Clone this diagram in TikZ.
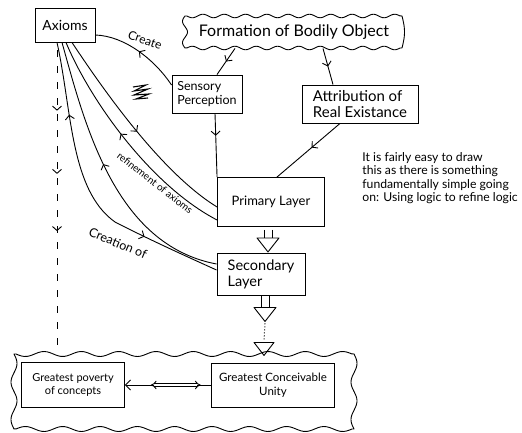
\documentclass[tikz,border=0pt]{standalone}
\usepackage{fontspec}
\setmainfont{Lato}
\usetikzlibrary{arrows.meta,decorations.markings,calc}
\begin{document}
\begin{tikzpicture}[x=1pt,y=-1pt,line width=0.9pt,
  box/.style={draw,rectangle,inner sep=2pt},
  barbtip/.tip={Straight Barb[length=4pt,width=9pt]},
  fwd/.style={postaction={decorate,decoration={markings,mark=at position #1 with {\arrow{barbtip}}}}},
  bwd/.style={postaction={decorate,decoration={markings,mark=at position #1 with {\arrowreversed{barbtip}}}}},
  lbl/.style={inner sep=0pt},
  pics/downarr/.style={code={
     \draw (-4,-#1) -- (-4,0) (4,-#1) -- (4,0);
     \draw[line join=round] (-11,0) -- (11,0) -- (0,14) -- cycle;}}
]
\fill[white] (0,0) rectangle (522,433);
\useasboundingbox (0,0) rectangle (522,433);

% nodes
\node[box,minimum width=60pt,minimum height=34pt,font=\fontsize{14}{16}\selectfont] (axioms) at (65,25) {Axioms};
\node[rectangle,minimum width=216pt,minimum height=32pt,font=\fontsize{16}{18}\selectfont] (form) at (294,32) {Formation of Bodily Object};
\draw[line join=round]
  plot[smooth,domain=0:1,samples=100,variable=\t] ({187+213*\t},{16+1.8*sin(\t*360*10)})
  -- plot[smooth,domain=0:1,samples=30,variable=\t] ({402+2.5*sin(\t*180)},{16+32*\t})
  -- plot[smooth,domain=0:1,samples=100,variable=\t] ({400-213*\t},{48+1.8*sin(\t*360*10)})
  -- plot[smooth,domain=0:1,samples=30,variable=\t] ({185-2.5*sin(\t*360*1.5)},{48-32*\t}) -- cycle;
\node[box,minimum width=70pt,minimum height=38pt,align=left,font=\fontsize{12.5}{14}\selectfont] (sens) at (207,94) {Sensory\\Perception};
\node[box,minimum width=116pt,minimum height=38pt,align=left,font=\fontsize{15}{16}\selectfont] (attr) at (360,104) {Attribution of\\Real Existance};
\node[box,minimum width=107pt,minimum height=49pt,font=\fontsize{13}{15}\selectfont] (prim) at (271,202) {Primary Layer};
\node[box,minimum width=88pt,minimum height=42pt,align=left,font=\fontsize{14.5}{16}\selectfont] (sec) at (261,274) {Secondary\\Layer};
\node[rectangle,minimum width=340pt,minimum height=78pt] (bot) at (184,391) {};
\draw[line join=round]
  plot[smooth,domain=0:1,samples=120,variable=\t] ({16+336*\t},{354+2.5*sin(\t*360*9)})
  -- plot[smooth,domain=0:1,samples=40,variable=\t] ({354+3*sin(\t*360*2)},{354+75*\t})
  -- plot[smooth,domain=0:1,samples=120,variable=\t] ({352-336*\t},{429+2.5*sin(\t*360*9)})
  -- plot[smooth,domain=0:1,samples=40,variable=\t] ({14-3*sin(\t*360*2)},{429-75*\t}) -- cycle;
\node[box,minimum width=103pt,minimum height=45pt,align=center,font=\fontsize{11}{13}\selectfont] (pov) at (73,385) {Greatest poverty\\of concepts};
\node[box,minimum width=123pt,minimum height=44pt,align=center,font=\fontsize{11.5}{13.5}\selectfont] (unity) at (273,385) {Greatest Conceivable\\Unity};
\node[anchor=north west,align=left,inner sep=0pt,font=\fontsize{12.2}{13.5}\selectfont] (note) at (362,152) {It is fairly easy to draw\\this as there is something\\fundamentally simple going\\on: Using logic to refine logic};

% top connectors
\draw[fwd=0.5] ($(form.south)+(-59,0)$) -- ($(sens.north)+(10,0)$);
\draw[fwd=0.5] ($(form.south)+(29,0)$) -- ($(attr.north)+(-27,0)$);
\draw[fwd=0.35] ($(sens.south)+(8,0)$) -- (prim.north west);
\draw[fwd=0.45] ($(attr.south)+(-20,0)$) -- ($(prim.north)+(6,0)$);
\draw[fwd=0.5] ($(sens.west)+(0,-9)$) .. controls (155,60) and (125,36) .. ($(axioms.east)+(0,10)$);
\node[lbl,rotate=-20,font=\fontsize{12}{13}\selectfont] (lcreate) at (145,40) {Create};

% curves from axioms
\draw[postaction={decorate,decoration={markings,
    mark=at position 0.24 with {\arrowreversed{barbtip}},
    mark=at position 0.74 with {\arrow{barbtip}}}}]
  ($(axioms.south)+(-8,0)$) .. controls (72,110) and (70,190) .. (115,222) .. controls (150,240) and (190,258) .. ($(sec.west)+(0,-4)$);
\draw[bwd=0.45] ($(axioms.south)+(-3,0)$) .. controls (85,125) and (115,245) .. ($(sec.west)+(0,-10)$);
\draw[bwd=0.45] ($(axioms.south)+(1,0)$) .. controls (90,100) and (150,185) .. ($(prim.west)+(0,18)$);
\draw[fwd=0.5] ($(axioms.south)+(7,0)$) .. controls (110,100) and (165,175) .. ($(prim.west)+(0,5)$);
\node[lbl,rotate=-38,font=\fontsize{10}{11}\selectfont] (lref) at (155,183) {refinement of axioms};
\node[lbl,rotate=-23,font=\fontsize{12.5}{13}\selectfont] (lcre) at (118,243) {Creation of};

% dashed line down from axioms
\draw[dash pattern=on 7pt off 9pt,
  postaction={solid,decorate,decoration={markings,
    mark=at position 0.2 with {\arrow{barbtip}},
    mark=at position 0.41 with {\arrow{barbtip}},
    mark=at position 0.6 with {\arrow{barbtip}}}}]
  ($(axioms.south)+(-8,8)$) -- ($(bot.north)+(-127,0)$);

% bottom arrow
\draw[{Straight Barb[length=5pt,width=10pt]}-] (pov.east) -- (unity.west);
\draw[double distance=2pt,{Implies}-{Implies}] ($(pov.east)!0.3!(unity.west)$) -- ($(pov.east)!0.88!(unity.west)$);

% hollow arrows
\pic at ($(prim.south)+(-3,11)$) {downarr=8};
\pic at ($(sec.south)+(4,12)$) {downarr=12};
\draw[dotted,line width=1pt] ($(sec.south)+(4,28)$) -- ($(sec.south)+(3,45)$);
\draw[line join=round] ($(sec.south)+(-7,47)$) -- ($(sec.south)+(13,47)$) -- ($(sec.south)+(3,60)$) -- cycle;

% scribble
\draw[line width=1.1pt] (133,87) -- (146,85) -- (134,91) -- (148,89) -- (134,95) -- (149,94) -- (136,99) -- (148,98);
\end{tikzpicture}
\end{document}
